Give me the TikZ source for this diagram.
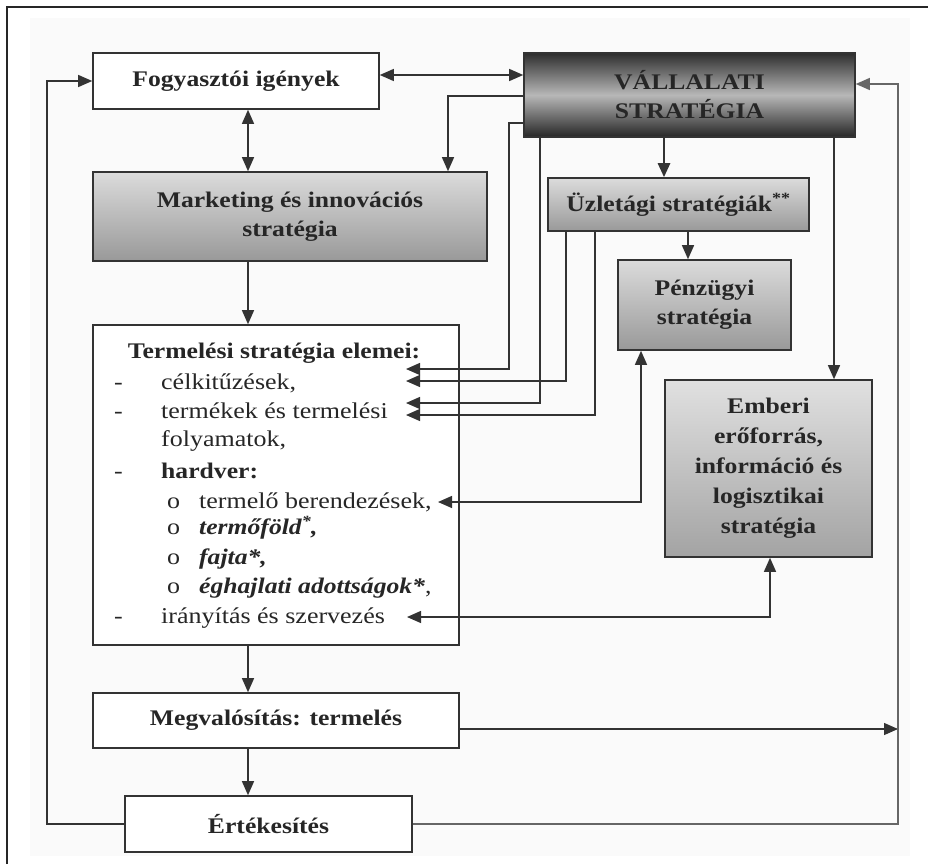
\documentclass[tikz,border=0pt]{standalone}
\usepackage{fontspec}
\setmainfont[FakeStretch=1.15]{Liberation Serif}
\usetikzlibrary{arrows.meta}
\begin{document}
\begin{tikzpicture}[x=1pt,y=-1pt,
  box/.style={draw=black!80, line width=1.6pt, inner sep=0pt, font=\fontsize{22.3}{29}\selectfont\bfseries, text=black!85, align=center},
  ln/.style={draw=black!80, line width=1.3pt},
  arr/.style={ln, -{Triangle[length=14pt,width=12pt]}},
  darr/.style={ln, {Triangle[length=14pt,width=12pt]}-{Triangle[length=14pt,width=12pt]}},
  lt/.style={anchor=base west, inner sep=0pt, font=\fontsize{22.6}{27}\selectfont, text=black!85},
  ltb/.style={lt, font=\fontsize{22.3}{27}\selectfont\bfseries},
  lti/.style={lt, font=\fontsize{22.3}{27}\selectfont\bfseries\itshape},
  gbox/.style={box, top color=black!14, bottom color=black!40},
]
\useasboundingbox (0,0) rectangle (928,864);
\fill[black!2] (30,18) rectangle (910,856);
\draw[black!85, line width=1.5pt] (7,864) -- (7,7) -- (928,7);

% boxes
\node[box, minimum width=286pt, minimum height=56pt, fill=white] (fogy) at (236,81) {Fogyasztói igények};
\node[box, minimum width=331pt, minimum height=84pt, top color=black!82, bottom color=black!85, middle color=black!28] (vall) at (689.5,95) {VÁLLALATI\\STRATÉGIA};
\node[gbox, minimum width=394pt, minimum height=89pt] (mkt) at (290,216.5) {Marketing és innovációs\\stratégia};
\node[gbox, minimum width=261pt, minimum height=53pt] (uzlet) at (678.5,204.5) {Üzletági stratégiák\textsuperscript{**}};
\node[gbox, minimum width=173pt, minimum height=90pt] (penz) at (704.5,305) {Pénzügyi\\stratégia};
\node[box, minimum width=366pt, minimum height=320pt, fill=white] (term) at (276,485) {};
\node[box, minimum width=207pt, minimum height=177pt, top color=black!12, bottom color=black!36, font=\fontsize{22.3}{30}\selectfont\bfseries] (emb) at (768.5,468.5) {Emberi\\erőforrás,\\információ és\\logisztikai\\stratégia};
\node[box, minimum width=366pt, minimum height=55pt, fill=white] (megv) at (276,720.5) {Megvalósítás: termelés};
\node[box, minimum width=287pt, minimum height=56pt, fill=white] (ert) at (268.5,824) {Értékesítés};

% text of the production strategy box
\node[ltb, anchor=base] (tt) at (274,358) {Termelési stratégia elemei:};
\node[lt] (d1) at (114,389) {-};
\node[lt] (l1) at (161,389) {célkitűzések,};
\node[lt] (d2) at (114,418) {-};
\node[lt] (l2) at (161,418) {termékek és termelési};
\node[lt] (l3) at (161,446) {folyamatok,};
\node[lt] (d3) at (114,478) {-};
\node[ltb] (l4) at (161,478) {hardver:};
\node[lt] (b1) at (167,508) {o};
\node[lt] (l5) at (199,508) {termelő berendezések,};
\node[lt] (b2) at (167,534) {o};
\node[lti] (l6) at (199,534) {termőföld\textsuperscript{*},};
\node[lt] (b3) at (167,564) {o};
\node[lti] (l7) at (199,564) {fajta*,};
\node[lt] (b4) at (167,593) {o};
\node[lti] (l8) at (199,593) {éghajlati adottságok*\upshape\mdseries,};
\node[lt] (d4) at (114,623) {-};
\node[lt] (l9) at (161,623) {irányítás és szervezés};

% free ends
\coordinate (t1) at (406,369);
\coordinate (t2) at (406,381);
\coordinate (t3) at (406,403);
\coordinate (t4) at (406,415);
\coordinate (tb) at (438,502);
\coordinate (ti) at (407,617);
\coordinate (rl) at (898,729);

% connectors
\draw[darr] (fogy.east |- 0,75) -- (vall.west |- 0,75);
\draw[darr] (fogy.south -| 248,0) -- (mkt.north -| 248,0);
\draw[arr] (vall.west |- 0,96) -| (mkt.north -| 448,0);
\draw[arr] (vall.west |- 0,123) -| (509,369) -- (t1);
\draw[arr] (vall.south -| 540,0) |- (t3);
\draw[arr] (uzlet.south -| 566,0) |- (t2);
\draw[arr] (uzlet.south -| 595,0) |- (t4);
\draw[arr, line width=2.6pt] (vall.south -| 664,0) -- (uzlet.north -| 664,0);
\draw[arr] (vall.south -| 834,0) -- (emb.north -| 834,0);
\draw[arr] (uzlet.south -| 688,0) -- (penz.north -| 688,0);
\draw[darr] (tb) -| (penz.south -| 641,0);
\draw[darr] (ti) -| (emb.south -| 770,0);
\draw[arr] (mkt.south -| 248,0) -- (term.north -| 248,0);
\draw[arr] (term.south -| 248,0) -- (megv.north -| 248,0);
\draw[arr] (megv.south -| 248,0) -- (ert.north -| 248,0);
\draw[arr] (megv.east |- 0,729) -- (rl);
\draw[arr] (ert.west) -| (47,81) -- (fogy.west);
\draw[arr, draw=black!60] (ert.east) -| (898,84) -- (vall.east |- 0,84);
\end{tikzpicture}
\end{document}
